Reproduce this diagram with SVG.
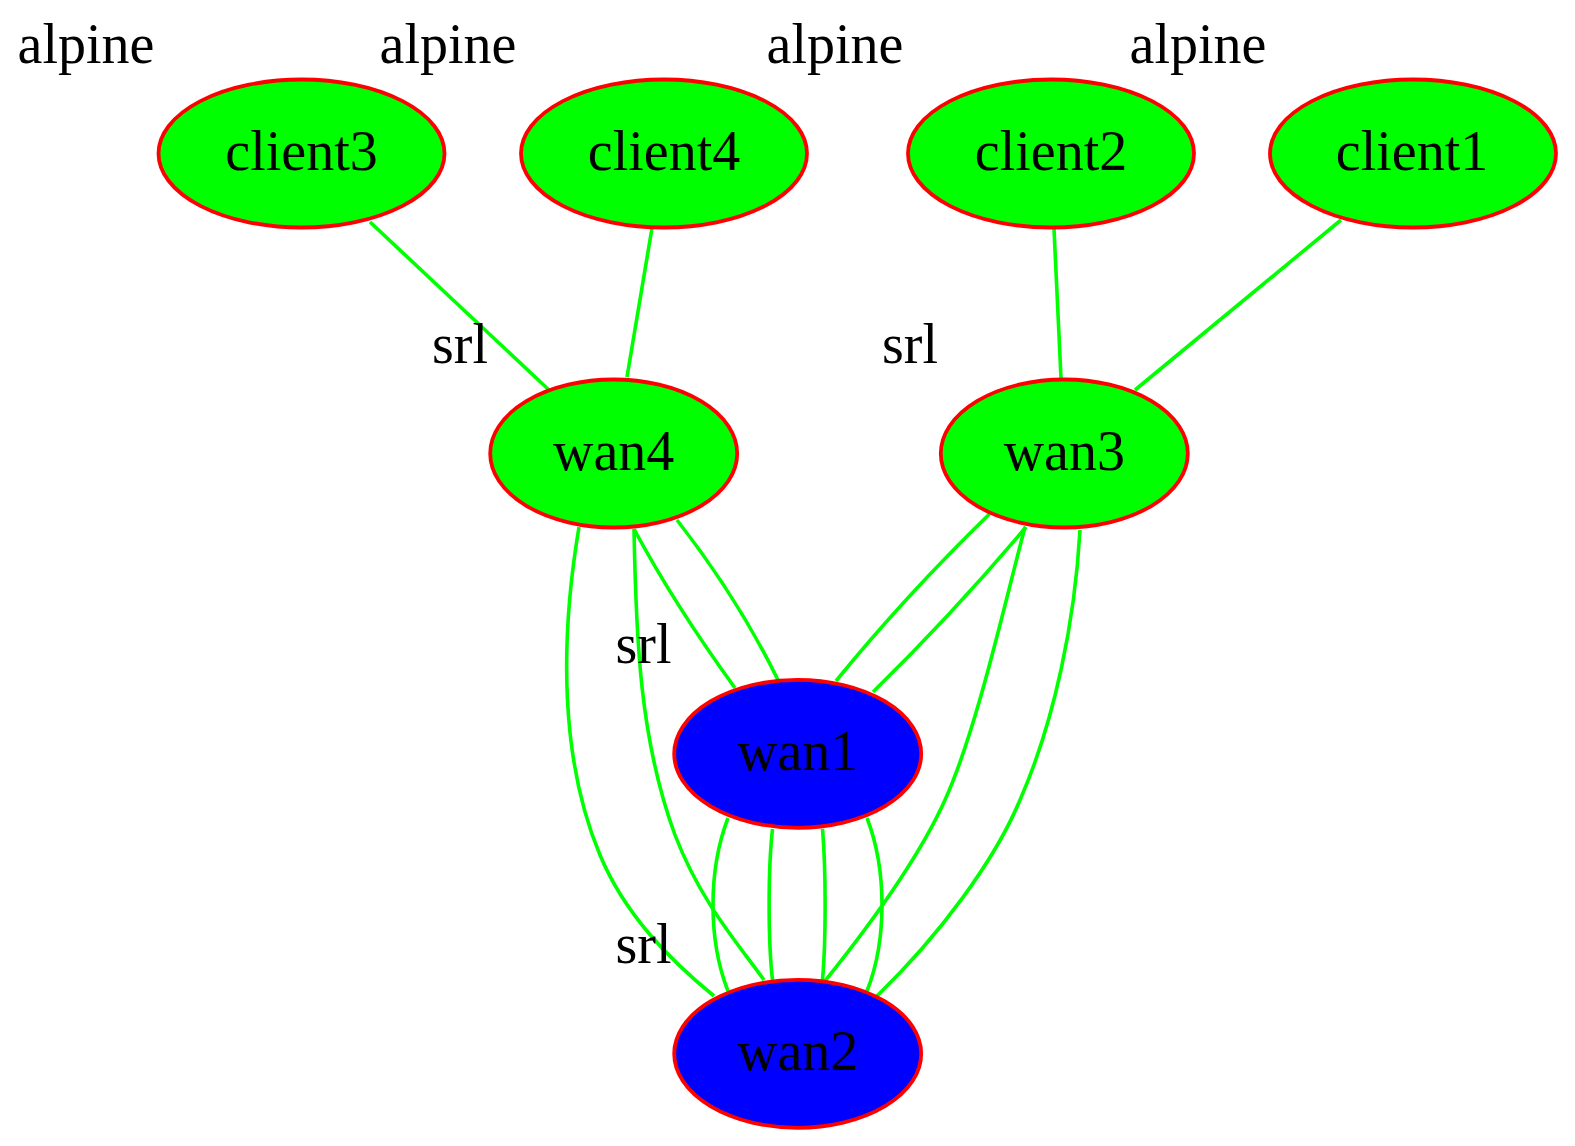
<svg xmlns="http://www.w3.org/2000/svg" width="1575" height="1146" viewBox="0 0 1575 1146">
<style>
  .bg { fill: #ffffff; }
  .edge { fill: none; stroke: #00ff00; stroke-width: 3.6; }
  .green { fill: #00ff00; stroke: #ff0000; stroke-width: 3.8; }
  .blue { fill: #0000ff; stroke: #ff0000; stroke-width: 3.8; }
  text { font-family: "Liberation Serif", "Times New Roman", serif; font-size: 56px; fill: #000000; text-anchor: middle; }
</style>
<rect class="bg" x="0" y="0" width="1575" height="1146"/>
<g id="connectors">
  <path class="edge" d="M370,222 L549,390"/>
  <path class="edge" d="M652,228 L627,377"/>
  <path class="edge" d="M1054,229 L1061,378"/>
  <path class="edge" d="M1341,220 L1135,390"/>
  <path class="edge" d="M634,529 C664,585 698,637 735,688"/>
  <path class="edge" d="M677,520 C716,570 750,623 778,680"/>
  <path class="edge" d="M579,527 C560,640 560,760 600,855 C625,915 670,960 714,996"/>
  <path class="edge" d="M634,529 C636,640 640,740 675,835 C700,900 735,940 764,980"/>
  <path class="edge" d="M989.5,514 C935,567 884,622 836,681"/>
  <path class="edge" d="M1026,527 C978,584 927,639 873,692"/>
  <path class="edge" d="M1025,527 C1003,610 976.5,730 945,800 C918,860 870,925 825,981"/>
  <path class="edge" d="M1080,530 C1075,620 1055,720 1020,800 C995,860 940,935 877,996"/>
  <path class="edge" d="M728,818 C708,870 708,940 728,991"/>
  <path class="edge" d="M772.5,829 C768,870 768,940 772.5,980"/>
  <path class="edge" d="M822.5,829 C826,870 826,940 822.5,980"/>
  <path class="edge" d="M867,818 C887,870 887,940 867,991"/>
</g>
<g id="client3">
  <ellipse class="green" cx="301.5" cy="153.5" rx="143" ry="74"/>
  <text x="301.5" y="169.5">client3</text>
  <text x="86" y="63">alpine</text>
</g>
<g id="client4">
  <ellipse class="green" cx="664" cy="153.5" rx="143" ry="74"/>
  <text x="664" y="169.5">client4</text>
  <text x="448" y="63">alpine</text>
</g>
<g id="client2">
  <ellipse class="green" cx="1051" cy="153.5" rx="143" ry="74"/>
  <text x="1051" y="169.5">client2</text>
  <text x="835" y="63">alpine</text>
</g>
<g id="client1">
  <ellipse class="green" cx="1413" cy="153.5" rx="143" ry="74"/>
  <text x="1412" y="169.5">client1</text>
  <text x="1198" y="63">alpine</text>
</g>
<g id="wan4">
  <ellipse class="green" cx="613.7" cy="453.5" rx="123.5" ry="74"/>
  <text x="613.7" y="469.5">wan4</text>
  <text x="460" y="362.5">srl</text>
</g>
<g id="wan3">
  <ellipse class="green" cx="1064.3" cy="453.5" rx="123.5" ry="74"/>
  <text x="1064.3" y="469.5">wan3</text>
  <text x="910" y="362.5">srl</text>
</g>
<g id="wan1">
  <ellipse class="blue" cx="797.7" cy="753.8" rx="123.5" ry="74"/>
  <text x="797.7" y="769.8">wan1</text>
  <text x="643.5" y="662.5">srl</text>
</g>
<g id="wan2">
  <ellipse class="blue" cx="797.7" cy="1053.8" rx="123.5" ry="74"/>
  <text x="797.7" y="1069.8">wan2</text>
  <text x="643.5" y="962.5">srl</text>
</g>
</svg>
